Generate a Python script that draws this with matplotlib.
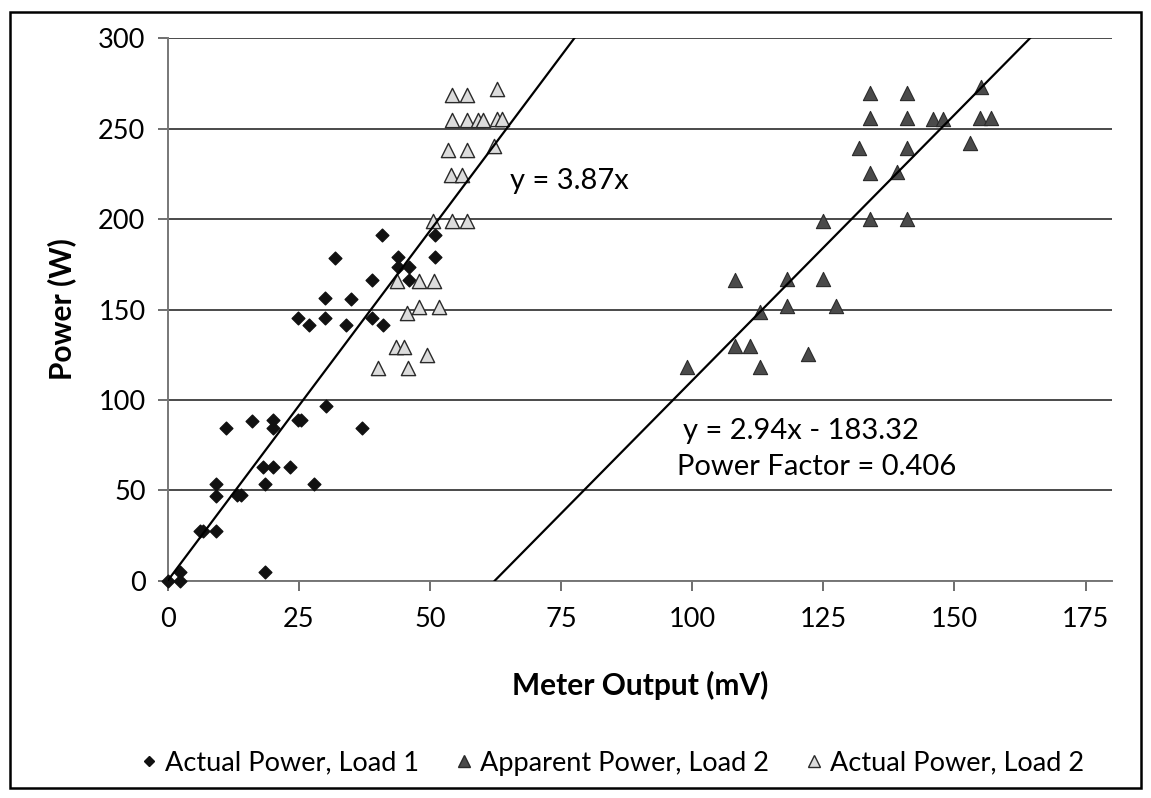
import matplotlib
matplotlib.use("Agg")
import matplotlib.pyplot as plt
from matplotlib.lines import Line2D
from matplotlib.patches import Rectangle
import numpy as np

plt.rcParams['font.family'] = ['Lato', 'DejaVu Sans']

# Actual Power, Load 1 (diamonds)
load1_x = [0, 2.3, 2.3, 18.5, 6.2, 6.8, 9.2, 9.2, 9.2, 13.2, 13.9, 18.5, 27.9,
           18.1, 20.1, 23.3, 11.1, 16.1, 20.1, 20.1, 24.9, 25.5, 30.2, 37.0,
           24.9, 27.0, 30.0, 30.0, 34.0, 34.9, 31.9, 38.9, 38.9, 41.0, 40.9,
           43.9, 43.9, 46.0, 46.0, 50.9, 50.9]
load1_y = [0, 5.0, 0, 5.0, 27.7, 27.7, 27.7, 46.8, 53.3, 47.4, 47.4, 53.3, 53.3,
           62.7, 62.7, 62.7, 84.6, 88.5, 88.9, 84.3, 88.9, 88.9, 96.6, 84.6,
           145.5, 141.4, 145.5, 156.2, 141.4, 155.6, 178.3, 166.3, 145.5, 141.4, 191.2,
           178.9, 173.7, 173.7, 166.3, 191.2, 178.9]

# Apparent Power, Load 2 (dark triangles)
app2_x = [108.1, 118.0, 124.9, 112.9, 118.0, 127.5, 108.1, 111.1, 122.1, 99.0, 113.0,
          124.9, 134.0, 141.0, 155.1, 134.0, 141.0, 145.9, 147.9, 154.9, 157.0,
          131.9, 141.0, 152.9, 134.0, 139.0, 134.0, 141.0]
app2_y = [166.3, 166.7, 166.7, 148.8, 151.9, 151.9, 129.8, 129.8, 125.2, 118.0, 118.0,
          199.1, 269.6, 269.6, 272.9, 255.8, 255.8, 255.2, 255.2, 255.8, 255.8,
          239.2, 239.2, 241.9, 225.3, 226.2, 200.1, 200.1]

# Actual Power, Load 2 (open triangles)
act2_x = [43.8, 47.9, 50.8, 45.7, 47.9, 51.7, 43.6, 45.1, 49.5, 40.1, 45.9,
          54.3, 57.1, 62.7, 54.3, 57.1, 59.2, 60.1, 62.7, 63.7, 53.5, 57.1,
          62.2, 54.1, 56.2, 50.6, 54.3, 57.1]
act2_y = [165.9, 165.9, 165.9, 147.9, 151.2, 151.2, 129.4, 129.4, 124.8, 117.8, 117.8,
          268.6, 268.6, 271.8, 254.8, 254.8, 254.8, 254.8, 255.2, 255.2, 238.1, 238.1,
          240.3, 224.4, 224.4, 199.1, 199.1, 199.1]

# Trendlines
trend1_slope, trend1_int = 3.87, 0.0
trend2_slope, trend2_int = 2.94, -183.32

x_ticks = [0, 25, 50, 75, 100, 125, 150, 175]
y_ticks = [0, 50, 100, 150, 200, 250, 300]

fig = plt.figure(figsize=(11.51, 7.98), dpi=100)
fig.patch.set_facecolor('white')
fig.patches.append(Rectangle((0.0087, 0.0125), 0.9826, 0.972, transform=fig.transFigure,
                             fill=False, edgecolor='black', linewidth=1.8))

ax = fig.add_axes([0.1457, 0.2723, 0.8202, 0.6797])
ax.set_xlim(0, 180)
ax.set_ylim(0, 300)
ax.set_xticks(x_ticks)
ax.set_yticks(y_ticks)
ax.tick_params(axis='both', labelsize=19.5, length=7, width=1.2, color='#555555',
               direction='out')
ax.tick_params(axis='x', pad=12)
ax.tick_params(axis='y', pad=9)
ax.grid(axis='y', color='#4a4a4a', linewidth=1.4)
ax.set_axisbelow(True)
for s in ['top', 'right']:
    ax.spines[s].set_visible(False)
for s in ['left', 'bottom']:
    ax.spines[s].set_color('#777777')
    ax.spines[s].set_linewidth(1.4)

ax.scatter(load1_x, load1_y, marker='D', s=42, color='#111111', zorder=3, clip_on=False)
ax.scatter(app2_x, app2_y, marker='^', s=105, facecolor='#4a4a4a', edgecolor='#2a2a2a',
           linewidth=0.8, zorder=3, clip_on=False)
ax.scatter(act2_x, act2_y, marker='^', s=105, facecolor='#dcdcdc', edgecolor='#2a2a2a',
           linewidth=1.0, zorder=3, clip_on=False)

xa = np.array([0, (300 - trend1_int) / trend1_slope])
ax.plot(xa, trend1_slope * xa + trend1_int, color='black', linewidth=1.6, zorder=4)
xb = np.array([(0 - trend2_int) / trend2_slope, (300 - trend2_int) / trend2_slope])
ax.plot(xb, trend2_slope * xb + trend2_int, color='black', linewidth=1.6, zorder=4)

ax.text(65.2, 221.0, 'y = 3.87x', fontsize=21, va='center', ha='left')
ax.text(98.2, 82.8, 'y = 2.94x - 183.32', fontsize=21, va='center', ha='left')
ax.text(97.1, 62.9, 'Power Factor = 0.406', fontsize=21, va='center', ha='left')

ax.set_xlabel('Meter Output (mV)', fontsize=21.5, fontweight='bold', labelpad=28)
ax.set_ylabel('Power (W)', fontsize=21.5, fontweight='bold', labelpad=16)

handles = [
    Line2D([], [], marker='D', linestyle='none', markersize=5.5, color='#111111'),
    Line2D([], [], marker='^', linestyle='none', markersize=8.5, markerfacecolor='#4a4a4a',
           markeredgecolor='#2a2a2a'),
    Line2D([], [], marker='^', linestyle='none', markersize=8.5, markerfacecolor='#dcdcdc',
           markeredgecolor='#2a2a2a'),
]
labels = ['Actual Power, Load 1', 'Apparent Power, Load 2', 'Actual Power, Load 2']
fig.legend(handles, labels, loc='center', bbox_to_anchor=(612 / 1151, 1 - 763 / 798),
           ncol=3, frameon=False, fontsize=19.5, handlelength=0.7, handletextpad=0.25,
           columnspacing=1.3)

fig.savefig('out.png', dpi=100)
